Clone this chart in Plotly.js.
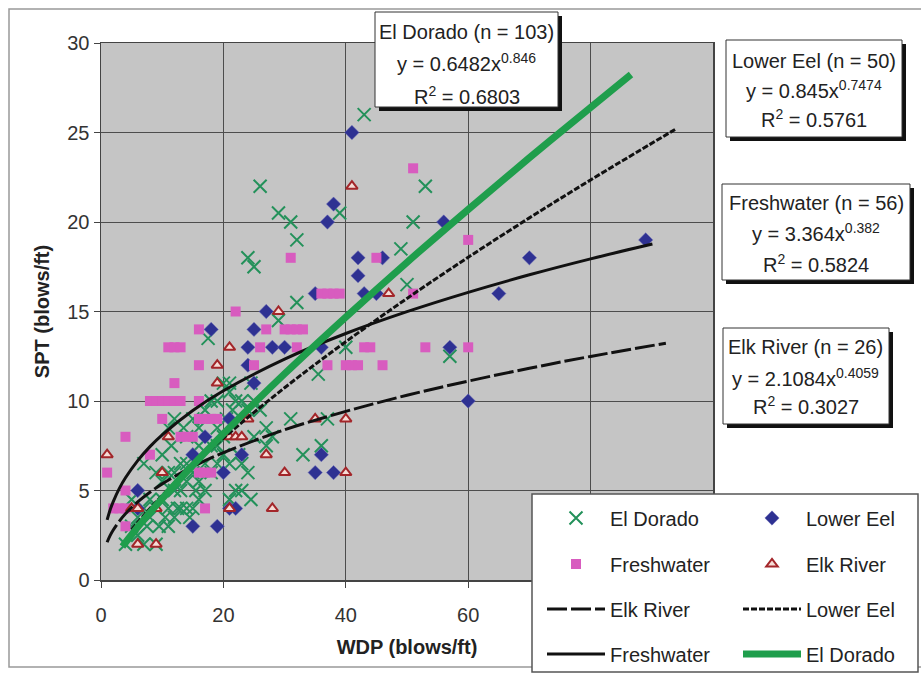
<!DOCTYPE html>
<html>
<head>
<meta charset="utf-8">
<script src="https://cdn.plot.ly/plotly-3.0.1.min.js"></script>
<style>html,body{margin:0;padding:0;background:#fff;}#chart{width:921px;height:677px;}</style>
</head>
<body>
<div id="chart"></div>
<script>
// ---------- data ----------
const elDoradoX = [43,26,53,29,31,39,51,32,49,24,25,50,32,29,17.5,40,57,35.5,33,36,31,37,27,27,24.5,20,21,22,21.5,24,23,24,22,21,24.5,23,21,22.5,20.5,19,17,16,14,11.5,12,13.5,12,14,15.5,16,14.5,12.5,10.5,7.5,9.5,9,6,4,
  5,6,7,7,8,8,9,10,11,11,12,13,13,14,15,10,11,12,13,15,16,17,18,19,19,20,20,18,7,9,10,11,14,15,16,17,18,19,21,23,25,26,25,28,5];
const elDoradoY = [26,22,22,20.5,20,20.5,20,19,18.5,18,17.5,16.5,15.5,14.5,13.5,13,12.5,11.5,7,7.5,9,9,7.5,8.5,11,11,11,10,9.5,9.5,6.5,6,5,4.5,4.5,5,6.5,7,9,8.5,6.5,7.5,6.5,7.5,9,8.5,5,5.5,5,4.5,3.5,4,3.5,3,3,2,2.5,2,
  3,3.5,2,4,3.5,4.5,4,4.5,4,3,3.5,5,4,4,4,5.5,6,6,6.5,6,5.5,5,6,6.5,7.5,7,8,7.5,6.5,6,7,8.5,8,9,8.5,9.5,10,10,10.5,10,10,9.5,8,8,4.5];

const lowerEelX = [41,38,37,42,46,42,43,45,35,27,18,25,24,28,30,36,24,25,21,17,15,23,36,20,35,38,6,21,22,15,19,56,70,65,89,57,60,6];
const lowerEelY = [25,21,20,18,18,17,16,16,16,15,14,14,13,13,13,13,12,11,9,8,7,7,7,6,6,6,5,4,4,3,3,20,18,16,19,13,10,4];

const freshX = [51,60,31,45,36,37,38,39,51,22,16,27,30,31,32,33,11,12,13,26,32,43,44,53,60,16,25,37,40,41,42,46,12,8,9,10,11,12,13,16,10,16,17,18,19,4,13,14,15,8,1,16,17,18,4,2,3,4,17,4];
const freshY = [23,19,18,18,16,16,16,16,16,15,14,14,14,14,14,14,13,13,13,13,13,13,13,13,13,12,12,12,12,12,12,12,11,10,10,10,10,10,10,10,9,9,9,9,9,8,8,8,8,7,6,6,6,6,5,4,4,4,4,3];

const elkX = [1,5,6,9,9,10,11,19,19,21,21,22,23,24,21,27,28,30,29,35,40,40,41,47,6];
const elkY = [7,4,2,2,4,6,8,12,11,13,8,8,8,9,4,7,4,6,15,9,9,6,22,16,4];

// trendline values
const edTrendX = [3.5,5,7.5,10,15,20,30,40,50,60,70,80,86.6];
const edTrendY = [1.87,2.53,3.57,4.55,6.41,8.17,11.52,14.69,17.75,20.70,23.59,26.40,28.24];
const leTrendX = [5,7.5,10,15,20,30,40,50,60,70,80,93.8];
const leTrendY = [2.81,3.81,4.72,6.40,7.93,10.74,13.31,15.73,18.03,20.23,22.35,25.17];
const fwTrendX = [1,1.5,2,3,4,6,8,10,15,20,30,40,50,60,70,80,90.1];
const fwTrendY = [3.36,3.93,4.38,5.12,5.71,6.67,7.45,8.11,9.47,10.57,12.34,13.77,14.99,16.07,17.05,17.94,18.77];
const erTrendX = [1,1.5,2,3,4,6,8,10,15,20,30,40,50,60,70,80,92.3];
const erTrendY = [2.11,2.49,2.79,3.29,3.70,4.36,4.90,5.37,6.33,7.11,8.39,9.42,10.32,11.11,11.83,12.49,13.23];

const seriesNames = ['El Dorado','Lower Eel','Freshwater','Elk River'];
const boxTitles = ['El Dorado (n = 103)','Lower Eel (n = 50)','Freshwater (n = 56)','Elk River (n = 26)'];
const boxEquations = ['y = 0.6482x<sup>0.846</sup>','y = 0.845x<sup>0.7474</sup>','y = 3.364x<sup>0.382</sup>','y = 2.1084x<sup>0.4059</sup>'];
const boxR2 = ['R<sup>2</sup> = 0.6803','R<sup>2</sup> = 0.5761','R<sup>2</sup> = 0.5824','R<sup>2</sup> = 0.3027'];
const xTicks = [0,20,40,60,80,100];
const yTicks = [0,5,10,15,20,25,30];

// ---------- layout helpers ----------
const FONT = 'Liberation Sans, Arial, sans-serif';
const L = 101, R = 713, T = 43, B = 580;
const px2x = p => (p - L) / (R - L);
const px2y = p => (B - p) / (B - T);

const traces = [
  {x: elDoradoX, y: elDoradoY, name: seriesNames[0], mode: 'markers', legend: 'legend',
   marker: {symbol: 'x-thin-open', size: 13, color: '#23915a', line: {width: 2, color: '#23915a'}}},
  {x: lowerEelX, y: lowerEelY, name: seriesNames[1], mode: 'markers', legend: 'legend2',
   marker: {symbol: 'diamond', size: 11, color: '#2e3192', line: {width: 0.5, color: '#6a6ab8'}}},
  {x: freshX, y: freshY, name: seriesNames[2], mode: 'markers', legend: 'legend3',
   marker: {symbol: 'square', size: 10, color: '#d85cbf', line: {width: 0}}},
  {x: elkX, y: elkY, name: seriesNames[3], mode: 'markers', legend: 'legend4',
   marker: {symbol: 'triangle-up', size: 10, color: '#f6dcd6', line: {width: 2, color: '#a3262a'}}},
  {x: erTrendX, y: erTrendY, name: seriesNames[3], mode: 'lines', legend: 'legend5',
   line: {color: '#111', width: 3, dash: '20px,4px', shape: 'spline'}},
  {x: leTrendX, y: leTrendY, name: seriesNames[1], mode: 'lines', legend: 'legend6',
   line: {color: '#111', width: 3, dash: '6px,2px', shape: 'spline'}},
  {x: fwTrendX, y: fwTrendY, name: seriesNames[2], mode: 'lines', legend: 'legend7',
   line: {color: '#111', width: 3, shape: 'spline'}},
  {x: edTrendX, y: edTrendY, name: seriesNames[0], mode: 'lines', legend: 'legend8',
   line: {color: '#1f9e4c', width: 7, shape: 'spline'}}
];

const col1 = px2x(542), col2 = px2x(738);
const rows = [518, 564, 609, 654].map(px2y);
function leg(x, y) {
  return {x: x, y: y, xanchor: 'left', yanchor: 'middle', bgcolor: 'rgba(0,0,0,0)',
          borderwidth: 0, itemwidth: 58, font: {family: FONT, size: 20, color: '#222'}};
}

const boxes = [ // [left, top, right, bottom] in px, and line centre offsets
  [375, 12, 558, 107, [20, 50, 83]],
  [726, 40, 902, 137, [21, 50, 79]],
  [722, 184, 910, 280, [19, 49, 79]],
  [723, 328, 889, 424, [19, 49, 77]]
];
const annotations = [];
boxes.forEach((b, i) => {
  const cx = px2x((b[0] + b[2]) / 2);
  [boxTitles[i], boxEquations[i], boxR2[i]].forEach((t, j) => {
    annotations.push({
      xref: 'paper', yref: 'paper', x: cx, y: px2y(b[1] + b[4][j]),
      xanchor: 'center', yanchor: 'middle', showarrow: false, align: 'center',
      text: t, font: {family: FONT, size: 20, color: '#222'}
    });
  });
});
const shapes = [
  {type: 'rect', xref: 'paper', yref: 'paper', layer: 'below',
   x0: px2x(9), x1: px2x(930), y0: px2y(667), y1: px2y(9),
   line: {color: '#999', width: 1.5}, fillcolor: 'rgba(0,0,0,0)'},
  {type: 'rect', xref: 'paper', yref: 'paper', layer: 'above',
   x0: px2x(532), x1: px2x(918), y0: px2y(672), y1: px2y(494),
   line: {color: '#555', width: 1.5}, fillcolor: '#fff'}
];
boxes.forEach(b => {
  shapes.push({type: 'rect', xref: 'paper', yref: 'paper', layer: 'above',
    x0: px2x(b[0] + 4), x1: px2x(b[2] + 4), y0: px2y(b[3] + 4), y1: px2y(b[1] + 4),
    line: {width: 0}, fillcolor: '#111'});
  shapes.push({type: 'rect', xref: 'paper', yref: 'paper', layer: 'above',
    x0: px2x(b[0]), x1: px2x(b[2]), y0: px2y(b[3]), y1: px2y(b[1]),
    line: {width: 1, color: '#333'}, fillcolor: '#fff'});
});

const axisCommon = {
  showgrid: true, gridcolor: '#4d4d4d', gridwidth: 1, zeroline: false,
  showline: true, linecolor: '#444', linewidth: 1.5, mirror: true,
  ticks: 'outside', ticklen: 6, tickcolor: '#444', automargin: false,
  tickfont: {family: FONT, size: 20, color: '#333'}
};

const layout = {
  width: 921, height: 677,
  margin: {l: L, r: 921 - R, t: T, b: 677 - B, pad: 0, autoexpand: false},
  paper_bgcolor: '#fff', plot_bgcolor: '#c5c5c5',
  font: {family: FONT, size: 20, color: '#222'},
  xaxis: Object.assign({}, axisCommon, {range: [0, 100], tickvals: xTicks, ticklabelstandoff: 10,
    title: {text: '<b>WDP (blows/ft)</b>', font: {family: FONT, size: 20, color: '#222'}, standoff: 15}}),
  yaxis: Object.assign({}, axisCommon, {range: [0, 30], tickvals: yTicks,
    title: {text: '<b>SPT (blows/ft)</b>', font: {family: FONT, size: 20, color: '#222'}, standoff: 12}}),
  showlegend: true,
  legend: leg(col1, rows[0]), legend2: leg(col2, rows[0]),
  legend3: leg(col1, rows[1]), legend4: leg(col2, rows[1]),
  legend5: leg(col1, rows[2]), legend6: leg(col2, rows[2]),
  legend7: leg(col1, rows[3]), legend8: leg(col2, rows[3]),
  annotations: annotations, shapes: shapes
};

Plotly.newPlot('chart', traces, layout, {displayModeBar: false, staticPlot: true});
</script>
</body>
</html>
